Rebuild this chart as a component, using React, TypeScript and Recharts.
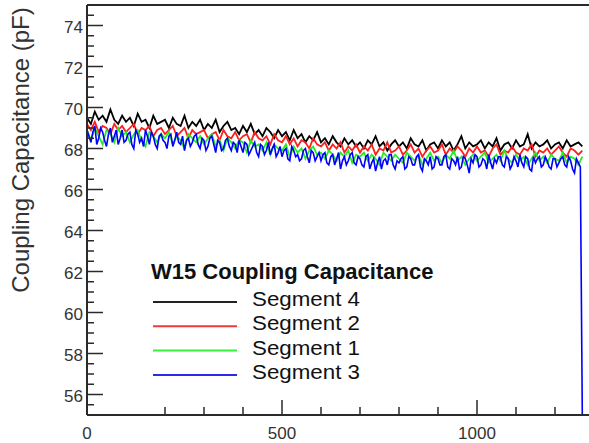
import React from 'react';
import { LineChart, Line, XAxis, YAxis, ReferenceLine, Customized } from 'recharts';

const X_VALUES = [
  0, 10, 20, 30, 40, 50, 60, 70, 80, 90,
  100, 110, 120, 130, 140, 150, 160, 170, 180, 190,
  200, 210, 220, 230, 240, 250, 260, 270, 280, 290,
  300, 310, 320, 330, 340, 350, 360, 370, 380, 390,
  400, 410, 420, 430, 440, 450, 460, 470, 480, 490,
  500, 510, 520, 530, 540, 550, 560, 570, 580, 590,
  600, 610, 620, 630, 640, 650, 660, 670, 680, 690,
  700, 710, 720, 730, 740, 750, 760, 770, 780, 790,
  800, 810, 820, 830, 840, 850, 860, 870, 880, 890,
  900, 910, 920, 930, 940, 950, 960, 970, 980, 990,
  1000, 1010, 1020, 1030, 1040, 1050, 1060, 1070, 1080, 1090,
  1100, 1110, 1120, 1130, 1140, 1150, 1160, 1170, 1180, 1190,
  1200, 1210, 1220, 1230, 1240, 1250, 1260, 1270,
];

// Segment 3 is also sampled half-way between the X_VALUES (x + 5)
const X_MID_OFFSET = 5;

const SEGMENT_4 = [
  69.5, 69.2, 69.8, 69.4, 69.6, 69.3, 69.9, 69.4, 69.2, 69.6,
  69.3, 69.5, 69.1, 69.7, 69.3, 69.4, 69.0, 69.6, 69.2, 69.3,
  69.4, 69.0, 69.5, 69.2, 69.1, 69.6, 69.0, 69.3, 69.1, 69.4,
  68.9, 69.2, 69.0, 69.4, 68.8, 69.1, 69.3, 68.9, 69.0, 68.7,
  69.1, 68.8, 69.2, 68.7, 68.9, 68.6, 69.0, 68.8, 68.5, 68.9,
  68.6, 68.8, 68.4, 68.9, 68.5, 68.7, 68.3, 68.6, 68.4, 68.8,
  68.3, 68.5, 68.2, 68.6, 68.3, 68.1, 68.5, 68.2, 68.4, 68.1,
  68.3, 68.0, 68.4, 68.2, 68.6, 68.1, 68.3, 67.9, 68.2, 68.4,
  68.1, 68.3, 68.0, 68.5, 68.2, 68.1, 68.4, 67.9, 68.2, 68.3,
  68.0, 68.4, 68.1, 68.3, 67.9, 68.2, 68.6, 68.0, 68.3, 68.1,
  68.2, 68.4, 68.0, 68.3, 68.1, 68.5, 67.9, 68.2, 68.3, 68.0,
  68.4, 68.1, 68.2, 68.7, 68.0, 68.3, 68.1, 68.2, 68.4, 68.0,
  68.2, 68.3, 68.0, 68.4, 68.1, 68.2, 68.3, 68.1,
];

const SEGMENT_2 = [
  69.2, 68.9, 69.3, 68.8, 69.1, 69.0, 68.7, 69.2, 68.9, 69.1,
  68.8, 69.0, 69.2, 68.7, 69.0, 68.9, 69.1, 68.6, 68.9, 69.0,
  68.7, 68.9, 69.1, 68.6, 68.8, 69.0, 68.5, 68.9, 68.7, 68.8,
  68.9, 68.5, 68.7, 68.8, 68.4, 68.9, 68.6, 68.5, 68.8, 68.4,
  68.6, 68.7, 68.3, 68.8, 68.5, 68.4, 68.6, 68.2, 68.7, 68.4,
  68.3, 68.6, 68.2, 68.5, 68.1, 68.4, 68.3, 68.0, 68.5, 68.2,
  68.1, 68.3, 67.9, 68.2, 68.0, 68.3, 67.8, 68.1, 67.9, 68.2,
  67.8, 68.1, 67.9, 68.2, 67.7, 68.0, 67.9, 68.3, 67.8, 67.9,
  68.1, 67.7, 67.9, 68.2, 67.8, 68.0, 67.6, 67.9, 68.1, 67.8,
  67.9, 68.2, 67.7, 68.0, 67.8, 68.1, 67.9, 67.6, 68.0, 67.8,
  68.1, 67.8, 67.9, 67.6, 68.0, 68.2, 67.7, 67.9, 67.8, 68.1,
  67.8, 67.7, 68.0, 67.9, 68.2, 67.6, 67.9, 67.8, 68.0, 67.7,
  67.9, 68.1, 67.8, 67.6, 68.0, 67.9, 67.7, 67.9,
];

const SEGMENT_1 = [
  68.9, 68.4, 69.0, 68.6, 68.2, 68.9, 68.7, 68.3, 69.0, 68.6,
  68.8, 68.3, 68.7, 68.9, 68.4, 68.1, 68.8, 68.6, 68.3, 68.7,
  68.5, 68.8, 68.2, 68.6, 68.4, 68.0, 68.7, 68.5, 68.3, 68.6,
  68.2, 68.5, 68.7, 68.1, 68.4, 67.9, 68.5, 68.3, 68.0, 68.4,
  68.3, 67.8, 68.4, 68.1, 68.2, 67.9, 68.3, 67.7, 68.2, 68.0,
  67.9, 68.2, 67.6, 68.1, 67.8, 68.0, 67.5, 67.9, 68.1, 67.7,
  67.8, 67.5, 67.9, 67.7, 67.4, 67.8, 67.6, 67.9, 67.3, 67.7,
  67.6, 67.8, 67.4, 67.7, 67.5, 67.2, 67.8, 67.6, 67.4, 67.7,
  67.5, 67.3, 67.8, 67.6, 67.4, 67.7, 67.2, 67.5, 67.8, 67.4,
  67.6, 67.3, 67.7, 67.5, 67.9, 67.4, 67.6, 67.2, 67.5, 67.7,
  67.4, 67.6, 67.8, 67.3, 67.5, 67.7, 67.4, 67.9, 67.5, 67.3,
  67.7, 67.4, 67.6, 67.2, 67.5, 67.8, 67.4, 67.6, 67.3, 67.7,
  67.5, 67.4, 67.8, 67.3, 67.6, 67.5, 67.2, 67.6,
];

const SEGMENT_3 = [
  68.9, 68.3, 69.1, 68.5, 68.8, 68.1, 69.0, 68.6, 68.2, 68.9,
  68.4, 68.8, 68.0, 68.7, 68.5, 68.9, 68.2, 68.6, 68.0, 68.7,
  68.3, 68.6, 68.1, 68.8, 68.2, 67.9, 68.5, 68.3, 68.7, 68.0,
  68.4, 68.1, 68.6, 67.8, 68.3, 68.0, 68.5, 67.9, 68.2, 68.4,
  67.8, 68.2, 67.9, 68.3, 67.6, 68.1, 67.9, 67.7, 68.2, 67.8,
  67.6, 68.0, 67.4, 67.9, 67.7, 67.5, 68.0, 67.3, 67.8, 67.6,
  67.4, 67.8, 67.2, 67.7, 67.5, 67.0, 67.6, 67.4, 67.8, 67.2,
  67.5, 67.1, 67.7, 67.3, 66.9, 67.6, 67.4, 67.2, 67.7, 67.0,
  67.3, 67.6, 67.1, 67.5, 67.2, 67.7, 66.9, 67.4, 67.6, 67.1,
  67.5, 67.2, 67.7, 67.0, 67.4, 67.6, 67.1, 67.5, 66.8, 67.3,
  67.6, 67.2, 67.4, 67.7, 67.0, 67.3, 67.6, 67.1, 67.5, 67.2,
  67.4, 67.7, 67.1, 67.5, 66.9, 67.3, 67.6, 67.2, 67.4, 67.0,
  67.5, 67.3, 67.6, 67.1, 67.4, 66.8, 67.3, 55.0,
];

// Segment 3 readings at x = 5, 15, ..., 1265
const SEGMENT_3_MID = [
  68.6, 68.8, 68.2, 69.0, 68.4, 68.7, 68.3, 68.9, 68.5, 68.3,
  68.7, 68.2, 68.9, 68.3, 68.1, 68.6, 68.8, 68.2, 68.6, 68.4,
  68.0, 68.7, 68.4, 68.3, 68.6, 68.4, 68.1, 68.6, 68.2, 68.5,
  67.9, 68.5, 68.2, 68.4, 67.9, 68.4, 68.1, 68.3, 67.8, 68.1,
  68.3, 67.7, 68.1, 67.8, 68.2, 67.7, 68.3, 68.0, 67.6, 68.1,
  67.9, 67.5, 68.1, 67.6, 67.4, 67.9, 67.6, 67.9, 67.4, 67.8,
  67.7, 67.3, 67.6, 67.2, 67.8, 67.4, 67.2, 67.7, 67.3, 67.6,
  67.2, 67.6, 67.0, 67.5, 67.3, 67.0, 67.5, 67.7, 67.2, 67.4,
  67.5, 67.0, 67.6, 67.2, 67.6, 67.1, 67.5, 67.2, 67.0, 67.6,
  67.2, 67.6, 67.1, 67.5, 67.2, 67.0, 67.6, 67.2, 67.5, 67.7,
  67.1, 67.5, 67.0, 67.3, 67.5, 67.6, 67.2, 67.6, 67.0, 67.6,
  67.1, 67.3, 67.6, 67.0, 67.6, 67.5, 67.1, 67.6, 67.1, 67.5,
  67.1, 67.5, 67.2, 67.6, 67.0, 67.5, 67.1,
];

const SERIES_KEYS = ['seg4', 'seg2', 'seg1', 'seg3'];
const SERIES_NAMES = ['Segment 4', 'Segment 2', 'Segment 1', 'Segment 3'];
const SERIES_COLORS = ['#000000', '#ff1e1e', '#22ee22', '#0000ff'];
const LEGEND_COLORS = ['#222222', '#f03a3a', '#3af03a', '#2a2ae8'];

const Y_MAJOR_TICKS = [56, 58, 60, 62, 64, 66, 68, 70, 72, 74];
const Y_MINOR_TICKS = [
  55.5, 56.5, 57, 57.5, 58.5, 59, 59.5, 60.5, 61, 61.5, 62.5, 63, 63.5,
  64.5, 65, 65.5, 66.5, 67, 67.5, 68.5, 69, 69.5, 70.5, 71, 71.5, 72.5,
  73, 73.5, 74.5,
];
const X_MAJOR_TICKS = [0, 500, 1000];
const X_MINOR_TICKS = [200, 300, 400, 600, 700, 800, 900, 1100, 1200];

const LEGEND_TITLE = 'W15 Coupling Capacitance';
const Y_TITLE = 'Coupling Capacitance (pF)';

const data = X_VALUES.map((x, i) => ({
  x,
  seg4: SEGMENT_4[i],
  seg2: SEGMENT_2[i],
  seg1: SEGMENT_1[i],
}));

const seg3Data: { x: number; seg3: number }[] = [];
X_VALUES.forEach((x, i) => {
  seg3Data.push({ x, seg3: SEGMENT_3[i] });
  if (i < SEGMENT_3_MID.length) seg3Data.push({ x: x + X_MID_OFFSET, seg3: SEGMENT_3_MID[i] });
});

const SERIES_DATA: any[] = [data, data, data, seg3Data];

const Y_TICKS = [...Y_MAJOR_TICKS, ...Y_MINOR_TICKS].sort((a, b) => a - b);
const X_TICKS = [...X_MAJOR_TICKS, ...X_MINOR_TICKS].sort((a, b) => a - b);

const FONT = '"Liberation Sans", Arial, Helvetica, sans-serif';
const AXIS_COLOR = '#2a2a2a';
const PLOT_LEFT = 87;
const PLOT_BOTTOM = 415;

const YTick = (props: any) => {
  const { y, payload } = props;
  const v = payload.value;
  const major = Y_MAJOR_TICKS.includes(v);
  return (
    <g>
      <line x1={PLOT_LEFT} x2={PLOT_LEFT + (major ? 16 : 7)} y1={y} y2={y} stroke={AXIS_COLOR} strokeWidth={1.5} />
      {major && (
        <text x={83} y={y + 1.5} textAnchor="end" dominantBaseline="central" fontSize={17} fill="#333" fontFamily={FONT}>
          {v}
        </text>
      )}
    </g>
  );
};

const XTick = (props: any) => {
  const { x, payload } = props;
  const v = payload.value;
  const major = X_MAJOR_TICKS.includes(v);
  return (
    <g>
      <line x1={x} x2={x} y1={PLOT_BOTTOM} y2={PLOT_BOTTOM - (major ? 15 : 8)} stroke={AXIS_COLOR} strokeWidth={1.5} />
      {major && (
        <text x={x} y={433} textAnchor="middle" dominantBaseline="central" fontSize={17} fill="#333" fontFamily={FONT}>
          {v}
        </text>
      )}
    </g>
  );
};

const YTitle = () => (
  <text
    x={29}
    y={150}
    transform="rotate(-90 29 150)"
    textAnchor="middle"
    fontSize={24}
    fill="#333"
    fontFamily={FONT}
  >
    {Y_TITLE}
  </text>
);

const LegendBox = () => (
  <g fontFamily={FONT}>
    <text x={151} y={279} fontSize={22} fontWeight="bold" fill="#111">
      {LEGEND_TITLE}
    </text>
    {SERIES_NAMES.map((name, i) => {
      const ly = 302 + i * 24.3;
      return (
        <g key={name}>
          <line x1={153} x2={237} y1={ly} y2={ly} stroke={LEGEND_COLORS[i]} strokeWidth={2} />
          <text x={252} y={ly + 4} fontSize={20.5} fill="#111" textLength={108} lengthAdjust="spacingAndGlyphs">
            {name}
          </text>
        </g>
      );
    })}
  </g>
);

export default function App() {
  return (
    <div style={{ position: 'absolute', left: 0, top: 0, width: 589, height: 443, overflow: 'hidden', background: '#fff' }}>
      <LineChart width={600} height={443} data={data} margin={{ top: 5, right: 6, left: 0, bottom: 0 }}>
        <XAxis
          dataKey="x"
          type="number"
          domain={[0, 1300]}
          ticks={X_TICKS}
          interval={0}
          height={28}
          tick={<XTick />}
          tickLine={false}
          axisLine={{ stroke: AXIS_COLOR, strokeWidth: 2 }}
          allowDuplicatedCategory={false}
        />
        <YAxis
          type="number"
          domain={[55, 75]}
          ticks={Y_TICKS}
          interval={0}
          width={87}
          tick={<YTick />}
          tickLine={false}
          axisLine={{ stroke: AXIS_COLOR, strokeWidth: 2 }}
          label={{ value: Y_TITLE, content: <YTitle /> }}
        />
        <ReferenceLine y={75} stroke={AXIS_COLOR} strokeWidth={2} />
        {SERIES_KEYS.map((k, i) => (
          <Line
            key={k}
            data={SERIES_DATA[i]}
            dataKey={k}
            name={SERIES_NAMES[i]}
            type="linear"
            stroke={SERIES_COLORS[i]}
            strokeWidth={i === 3 ? 1.6 : 1.8}
            dot={false}
            isAnimationActive={false}
          />
        ))}
        <Customized component={<LegendBox />} />
      </LineChart>
    </div>
  );
}
